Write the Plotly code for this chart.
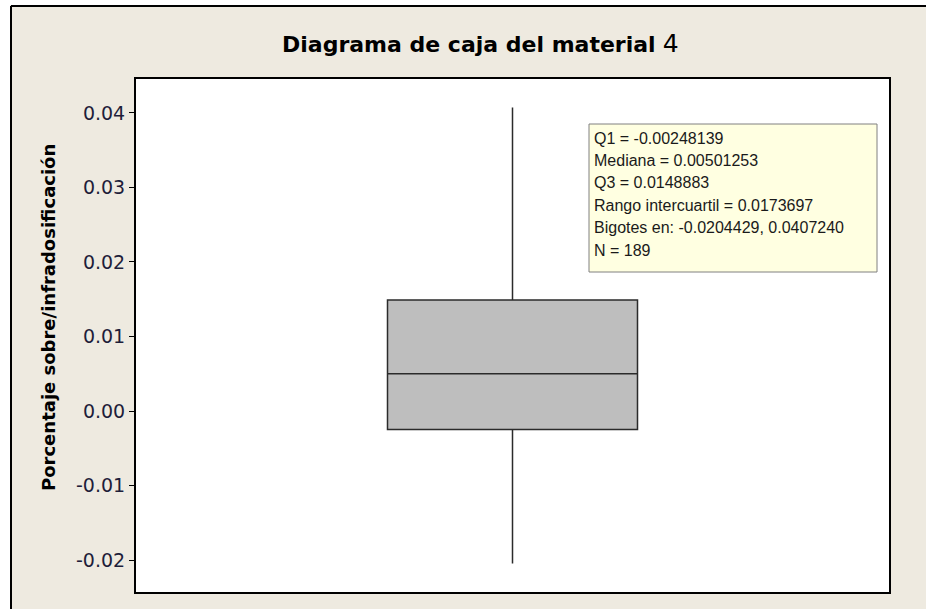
import plotly.graph_objects as go

# Data: {{{
category = [0]
q1 = [-0.00248139]
median = [0.00501253]
q3 = [0.0148883]
lower_whisker = [-0.0204429]
upper_whisker = [0.0407240]
n_obs = 189
y_ticks = [-0.02, -0.01, 0.00, 0.01, 0.02, 0.03, 0.04]
y_tick_labels = ['-0.02', '-0.01', '0.00', '0.01', '0.02', '0.03', '0.04']
#}}}

# Pixel helpers (plot area is 136..889 x 79..592 in a 926x609 page): {{{
W, H = 926, 609
L, R, T, B = 136, 889, 79, 592
def px(x):
    return (x - L) / (R - L)
def py(y):
    return (B - y) / (B - T)
#}}}

BG = '#EEEAE0'
FONT = 'DejaVu Sans'

fig = go.Figure()
fig.add_box(
    x=category,
    q1=q1,
    median=median,
    q3=q3,
    lowerfence=lower_whisker,
    upperfence=upper_whisker,
    boxpoints=False,
    width=0.332,
    whiskerwidth=0,
    fillcolor='#BEBEBE',
    line=dict(color='#2b2b2b', width=1.5),
    hoverinfo='y',
    showlegend=False,
)

# Stats box: {{{
iqr = q3[0] - q1[0]
stat_lines = [
    f'Q1 = {q1[0]:#.6g}',
    f'Mediana = {median[0]:#.6g}',
    f'Q3 = {q3[0]:#.6g}',
    f'Rango intercuartil = {iqr:#.6g}',
    f'Bigotes en: {lower_whisker[0]:#.6g}, {upper_whisker[0]:#.6g}',
    f'N = {n_obs}',
]
fig.add_shape(type='rect', xref='paper', yref='paper',
              x0=px(589), x1=px(877), y0=py(272), y1=py(124),
              fillcolor='#FFFFE1', line=dict(color='#808080', width=1), layer='above')
for i, s in enumerate(stat_lines):
    fig.add_annotation(text=s, xref='paper', yref='paper', x=px(592), y=py(138 + 22.4 * i),
                       xanchor='left', yanchor='middle', showarrow=False,
                       font=dict(family='Liberation Sans', size=16, color='#1a1a1a'))
#}}}

# Outer frame (white strip left/top + black border), kept inside the page: {{{
fig.add_shape(type='rect', xref='paper', yref='paper', x0=px(0), x1=px(10), y0=py(H), y1=py(0),
              fillcolor='white', line=dict(color='white', width=0), layer='above')
fig.add_shape(type='rect', xref='paper', yref='paper', x0=px(0), x1=px(W), y0=py(5), y1=py(0),
              fillcolor='white', line=dict(color='white', width=0), layer='above')
fig.add_shape(type='line', xref='paper', yref='paper', x0=px(11), x1=px(11), y0=py(H), y1=py(6),
              line=dict(color='black', width=2), layer='above')
fig.add_shape(type='line', xref='paper', yref='paper', x0=px(11), x1=px(W), y0=py(6), y1=py(6),
              line=dict(color='black', width=2), layer='above')
#}}}

# Title and y label: {{{
fig.add_annotation(text='<b>Diagrama de caja del material</b> <span style="font-size:25px">4</span>',
                   xref='paper', yref='paper',
                   x=px(480), y=py(43), xanchor='center', yanchor='middle', showarrow=False,
                   font=dict(family=FONT, size=22, color='black'))
fig.add_annotation(text='<b>Porcentaje sobre/infradosificación</b>', xref='paper', yref='paper',
                   x=px(48), y=py(318), xanchor='center', yanchor='middle', showarrow=False,
                   textangle=-90, font=dict(family=FONT, size=18, color='black'))
#}}}

fig.update_layout(
    width=W, height=H,
    margin=dict(l=L, r=W - R, t=T, b=H - B, pad=0),
    paper_bgcolor=BG,
    plot_bgcolor='white',
    xaxis=dict(range=[-0.5, 0.5], showticklabels=False, ticks='', showgrid=False, zeroline=False,
               showline=True, mirror=True, linecolor='black', linewidth=2),
    yaxis=dict(range=[-0.02428, 0.04455], tickvals=y_ticks, ticktext=y_tick_labels,
               ticks='outside', ticklen=5, tickcolor='black', tickwidth=1,
               showgrid=False, zeroline=False, showline=True, mirror=True,
               linecolor='black', linewidth=2,
               tickfont=dict(family=FONT, size=19, color='#1e1e3a')),
)

# Page body has a default 8px margin and may scroll; pin the figure to (0, 0).
fig.write_html('out.html', config={'displayModeBar': False},
               post_script="document.body.style.margin='0';"
                           "document.body.style.overflow='hidden';"
                           "document.documentElement.style.overflow='hidden';")
